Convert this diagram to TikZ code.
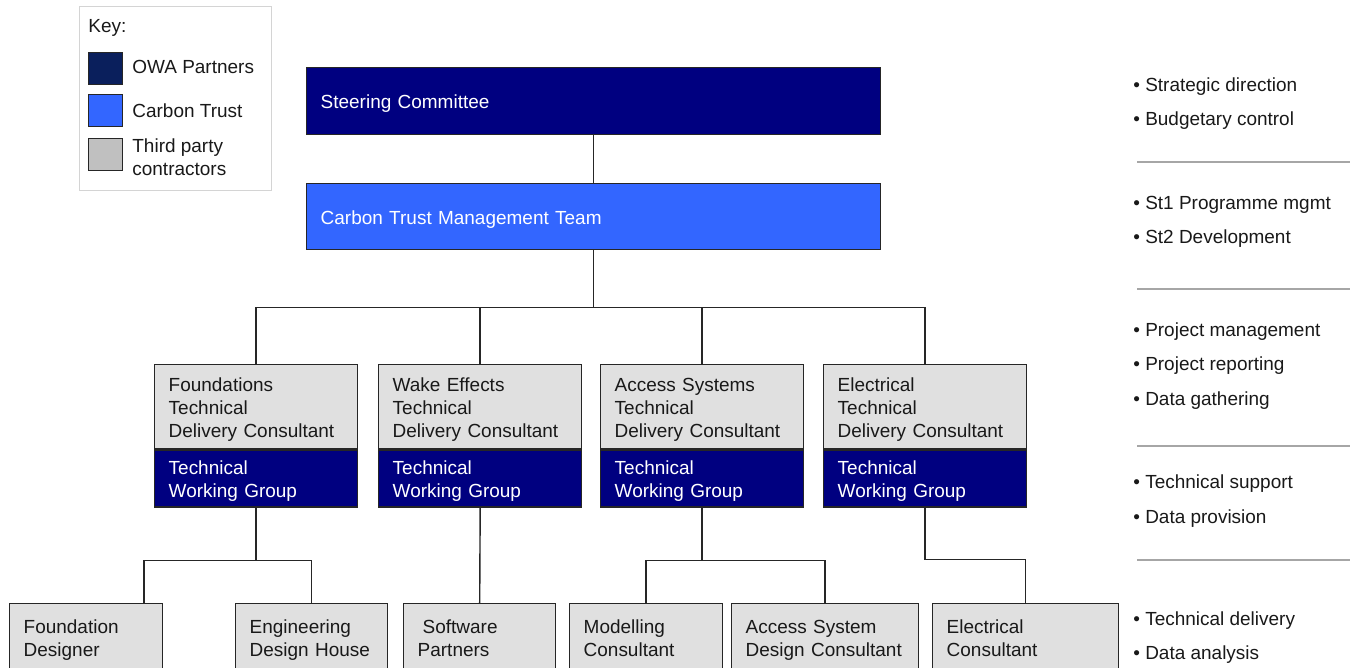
\documentclass[tikz,border=0pt]{standalone}
\usepackage{fontspec}
\setmainfont{Liberation Sans}
\usetikzlibrary{positioning}
\definecolor{owanavy}{HTML}{000080}
\definecolor{keynavy}{HTML}{0A1F5C}
\definecolor{ctblue}{HTML}{3366FF}
\definecolor{tpgray}{HTML}{E0E0E0}
\definecolor{keygray}{HTML}{C0C0C0}
\definecolor{rulegray}{HTML}{A6A6A6}
\definecolor{keyframe}{HTML}{D4D4D4}
\tikzset{
  every node/.style={font=\fontsize{10.8}{13}\selectfont, text=black!90},
  orgbox/.style={draw=black!85, line width=0.8pt, inner xsep=0.28cm, inner ysep=0pt,
    align=left, anchor=north west,
    execute at begin node=\rule{0pt}{11pt}, execute at end node=\rule[-2pt]{0pt}{2pt}},
  partner box/.style={orgbox, fill=owanavy, text=white},
  trust box/.style={orgbox, fill=ctblue, text=white},
  contractor box/.style={orgbox, fill=tpgray},
  link/.style={draw=black!85, line width=0.8pt},
  swatch/.style={draw=black!85, line width=0.6pt, minimum width=0.68cm, minimum height=0.64cm,
    inner sep=0pt, anchor=north west},
  keylabel/.style={inner sep=0pt, align=left},
  note/.style={inner sep=0pt, anchor=west, yshift=-0.04cm},
  rule/.style={draw=rulegray, line width=0.9pt},
}

\begin{document}
\begin{tikzpicture}[x=0.02cm,y=-0.02cm]
    \useasboundingbox (0,0) rectangle (1354,668);
    \clip (0,0) rectangle (1354,668);

    % key
    \node[draw=keyframe, line width=0.7pt, minimum width=3.84cm, minimum height=3.68cm, anchor=north west] (key) at (79,6) {};
    \node[note] (keytitle) at (88,26) {Key:};
    \node[swatch, fill=keynavy] (kowa) at (88,52) {};
    \node[swatch, fill=ctblue] (kct) at (88,94) {};
    \node[swatch, fill=keygray] (ktp) at (88,138) {};
    \node[keylabel, right=0.18cm of kowa, yshift=0.03cm] {OWA Partners};
    \node[keylabel, right=0.18cm of kct] {Carbon Trust};
    \node[keylabel, right=0.18cm of ktp, yshift=-0.06cm] {Third party\\contractors};

    % top of the tree
    \node[partner box, text width=10.92cm, minimum height=1.34cm] (sc) at (306,67) {Steering Committee};
    \node[trust box, text width=10.92cm, minimum height=1.32cm] (cmt) at (306,183) {Carbon Trust Management Team};
    \draw[link] (sc) -- (cmt);

    \foreach \n/\x/\title in {fou/154/Foundations, wak/378/Wake Effects, acc/600/Access Systems, ele/823/Electrical}{
      \node[contractor box, text width=3.5cm, minimum height=1.68cm] (\n) at (\x,364) {\title\\Technical\\Delivery Consultant};
      \node[partner box, text width=3.5cm, minimum height=1.14cm] (\n-wg) at (\n.south west) {Technical\\Working Group};
      \draw[link] (cmt.south) -- ++(0,57) -| (\n.north);
    }

    % third party contractors
    \node[contractor box, text width=2.5cm, minimum height=1.34cm] (fdes) at (9,603) {Foundation\\Designer};
    \node[contractor box, text width=2.48cm, minimum height=1.34cm] (edh) at (235,603) {Engineering\\Design House};
    \node[contractor box, text width=2.48cm, minimum height=1.34cm] (swp) at (403,603) {\hspace{0.1cm}Software\\Partners};
    \node[contractor box, text width=2.5cm, minimum height=1.34cm] (mod) at (569,603) {Modelling\\Consultant};
    \node[contractor box, text width=3.18cm, minimum height=1.34cm] (asd) at (731,603) {Access System\\Design Consultant};
    \node[contractor box, text width=3.16cm, minimum height=1.34cm] (elc) at (932,603) {Electrical\\Consultant};

    \draw[link] (fou-wg.south) -- ++(0,53) -| ([xshift=1.16cm]fdes.north);
    \draw[link] (fou-wg.south) -- ++(0,53) -| (edh.north);
    \draw[link] (wak-wg.south) -- (swp.north);
    \draw[link] (acc-wg.south) -- ++(0,53) -| (mod.north);
    \draw[link] (acc-wg.south) -- ++(0,53) -| (asd.north);
    \draw[link] (ele-wg.south) -- ++(0,52) -| (elc.north);

    % responsibilities
    \foreach \y/\t in {85/Strategic direction, 119/Budgetary control, 203/St1 Programme mgmt, 237/St2 Development,
      330/Project management, 364/Project reporting, 399/Data gathering, 482/Technical support, 517/Data provision,
      619/Technical delivery, 653/Data analysis}
      \node[note] (note\y) at (1133,\y) {• \t};
    \foreach \y in {162,289,446,560}
      \draw[rule] (1137,\y) -- (1350,\y);
\end{tikzpicture}
\end{document}
